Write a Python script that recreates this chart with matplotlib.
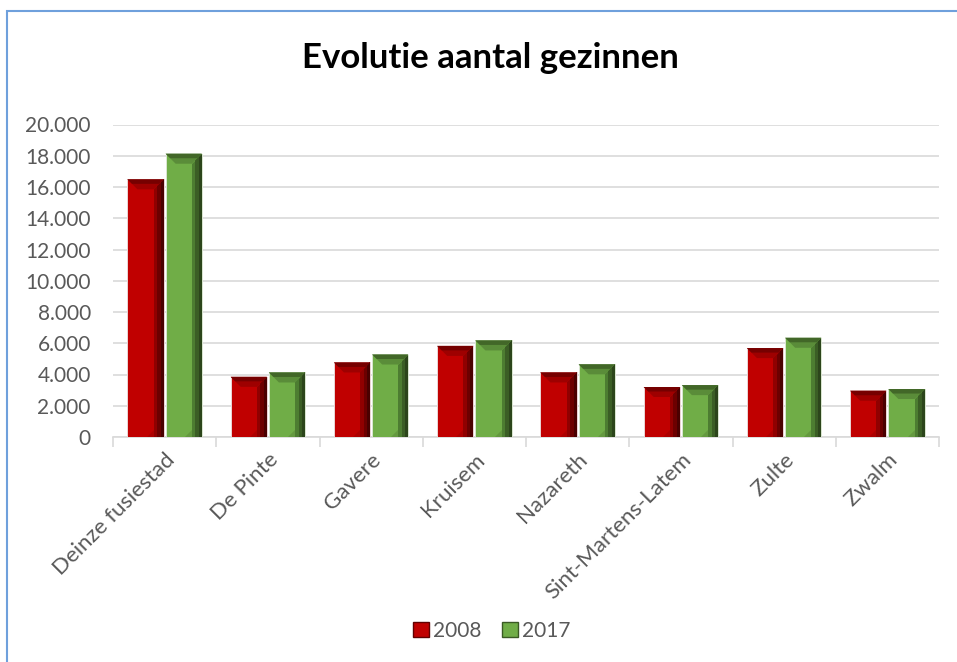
import matplotlib
matplotlib.use('Agg')
import matplotlib.pyplot as plt
from matplotlib.patches import Polygon, Rectangle, Patch
from matplotlib.ticker import FuncFormatter, MultipleLocator

gemeenten = ['Deinze fusiestad', 'De Pinte', 'Gavere', 'Kruisem', 'Nazareth',
             'Sint-Martens-Latem', 'Zulte', 'Zwalm']
gezinnen_2008 = [16490, 3850, 4770, 5830, 4130, 3200, 5690, 2960]
gezinnen_2017 = [18130, 4130, 5280, 6180, 4650, 3320, 6350, 3070]
jaren = ['2008', '2017']

RED = '#c00000'
GREEN = '#70ad47'
TEXT_GREY = '#595959'
GRID_GREY = '#d9d9d9'
FRAME_BLUE = '#6fa0dc'
BAR_W = 0.35
OFFSET = 0.185
BEVEL_PX = 10
CORNER_PX = 17
FONT = ['Lato', 'DejaVu Sans']

# shades per series: top outer, top inner, right outer, right mid, right inner, lower-right corner
SHADES = {
    RED: ('#760000', '#9e0000', '#4a0000', '#6c0000', '#900000', '#ad0000'),
    GREEN: ('#426728', '#5a8c39', '#2c451b', '#3b5e25', '#4d7d31', '#64993f'),
}

plt.rcParams['font.family'] = FONT

fig = plt.figure(figsize=(9.57, 6.62), dpi=100)
ax = fig.add_axes([113 / 957, 1 - 437 / 662, 826 / 957, 312.5 / 662])

x = list(range(len(gemeenten)))
bars_a = ax.bar([i - OFFSET for i in x], gezinnen_2008, BAR_W, color=RED,
                edgecolor='#ead6d6', linewidth=0.7, zorder=3)
bars_b = ax.bar([i + OFFSET for i in x], gezinnen_2017, BAR_W, color=GREEN,
                edgecolor='#dbe6d2', linewidth=0.7, zorder=3)

ax.set_xlim(-0.5, len(gemeenten) - 0.5)
ax.set_ylim(0, 20000)
ax.yaxis.set_major_locator(MultipleLocator(2000))
ax.yaxis.set_major_formatter(FuncFormatter(lambda v, p: '{:,.0f}'.format(v).replace(',', '.')))
ax.grid(axis='y', color=GRID_GREY, linewidth=1.2, zorder=0)
ax.set_axisbelow(True)

for s in ['top', 'right', 'left']:
    ax.spines[s].set_visible(False)
ax.spines['bottom'].set_color(GRID_GREY)
ax.spines['bottom'].set_linewidth(1.2)

ax.set_xticks(x)
ax.set_xticks([i - 0.5 for i in range(len(gemeenten) + 1)], minor=True)
ax.set_xticklabels(gemeenten, rotation=45, ha='right', rotation_mode='anchor',
                   fontsize=16, color=TEXT_GREY)
ax.tick_params(axis='x', which='major', length=0, pad=9)
ax.tick_params(axis='x', which='minor', length=7, color=GRID_GREY, width=1.2)
ax.tick_params(axis='y', length=0, labelsize=15, labelcolor=TEXT_GREY, pad=16)

# bevel effect drawn on top of every bar
fig.canvas.draw()
bbox = ax.get_window_extent()
px_x = (ax.get_xlim()[1] - ax.get_xlim()[0]) / bbox.width
px_y = (ax.get_ylim()[1] - ax.get_ylim()[0]) / bbox.height


def bevel(bars, color):
    top_out, top_in, right_out, right_mid, right_in, corner = SHADES[color]
    for b in bars:
        x0 = b.get_x()
        x1 = x0 + b.get_width()
        y0 = 0
        y1 = b.get_height()
        ex = min(BEVEL_PX * px_x, b.get_width() / 2)
        ey = min(BEVEL_PX * px_y, y1 / 2)
        cx = min(CORNER_PX * px_x, b.get_width() / 2)
        cy = min(CORNER_PX * px_y, y1 / 2)
        polys = [([(x1 - cx, y0), (x1, y0), (x1, y0 + cy)], corner)]
        for f, c in [(1.0, right_in), (0.65, right_mid), (0.3, right_out)]:
            polys.append(([(x1, y1), (x1, y0), (x1 - ex * f, y0), (x1 - ex * f, y1 - ey * f)], c))
        for f, c in [(1.0, top_in), (0.45, top_out)]:
            polys.append(([(x0, y1), (x1, y1), (x1 - ex * f, y1 - ey * f), (x0 + ex * f, y1 - ey * f)], c))
        for pts, c in polys:
            ax.add_patch(Polygon(pts, closed=True, facecolor=c, edgecolor='none', zorder=4))


bevel(bars_a, RED)
bevel(bars_b, GREEN)

fig.text(490 / 957, 1 - 58 / 662, 'Evolutie aantal gezinnen', ha='center', va='center',
         fontsize=25, fontweight='bold', color='black')

handles = [Patch(facecolor=RED, edgecolor='#600000'), Patch(facecolor=GREEN, edgecolor='#3a5a24')]
fig.legend(handles, jaren, loc='center', bbox_to_anchor=(492 / 957, 1 - 631 / 662), ncol=2,
           frameon=False, fontsize=15, labelcolor=TEXT_GREY, handlelength=0.75, handleheight=0.75,
           handletextpad=0.2, columnspacing=1.0)

fig.patches.append(Rectangle((6.5 / 957, -0.1), 1.2, 1.1 - 10.5 / 662, transform=fig.transFigure,
                             fill=False, edgecolor=FRAME_BLUE, linewidth=1.5))

fig.savefig('out.png', dpi=100, facecolor='white')
